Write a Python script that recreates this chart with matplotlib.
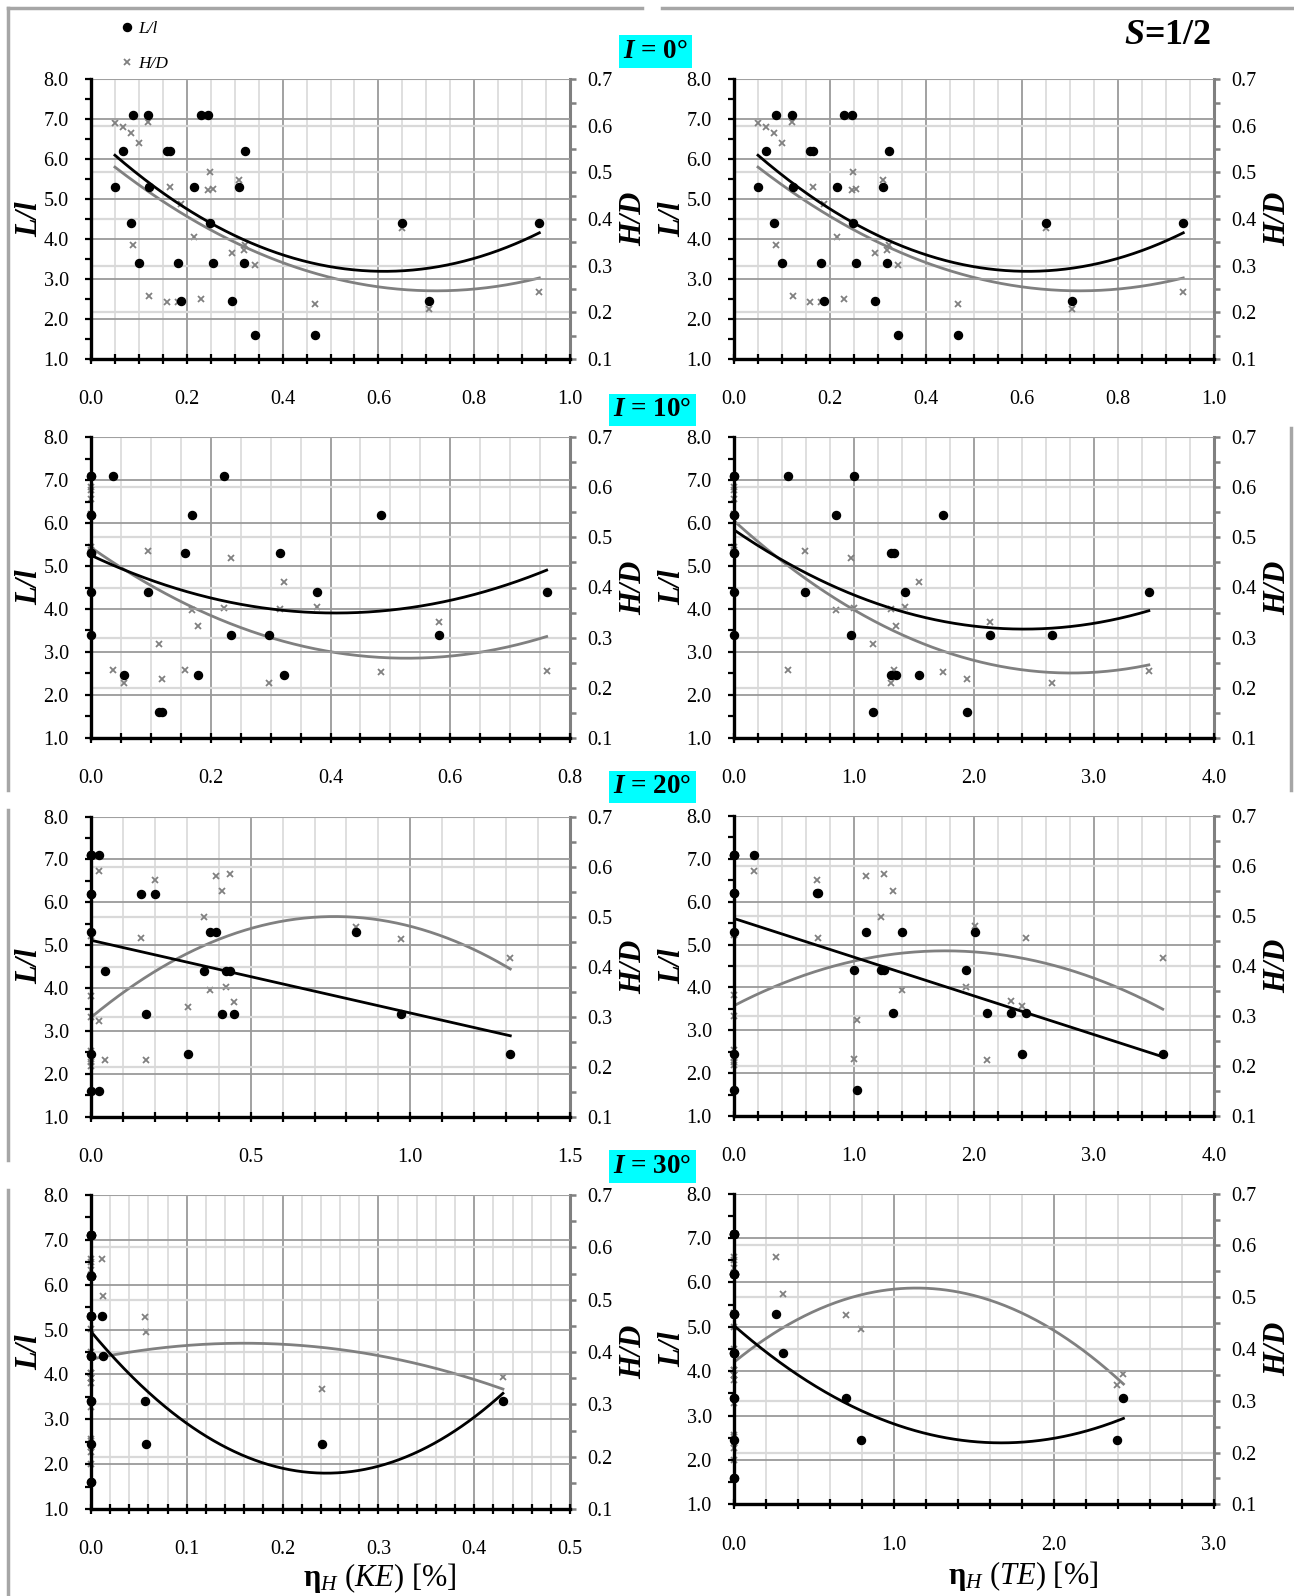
import numpy as np
import matplotlib
matplotlib.use('Agg')
import matplotlib.pyplot as plt
from matplotlib.ticker import MultipleLocator, FormatStrFormatter
from matplotlib.lines import Line2D

plt.rcParams['font.family'] = ['Liberation Serif', 'DejaVu Serif']
plt.rcParams['mathtext.fontset'] = 'custom'
plt.rcParams['mathtext.rm'] = 'Liberation Serif'
plt.rcParams['mathtext.it'] = 'Liberation Serif:italic'
plt.rcParams['mathtext.bf'] = 'Liberation Serif:bold'
plt.rcParams['mathtext.sf'] = 'Liberation Serif:bold:italic'

# ---------------- data ----------------
# I = 0 deg
eta_ke_0 = [0.050, 0.067, 0.083, 0.087, 0.100, 0.120, 0.122, 0.158, 0.165, 0.181, 0.187, 0.214, 0.230,
            0.245, 0.248, 0.254, 0.294, 0.310, 0.319, 0.322, 0.342, 0.467, 0.649, 0.705, 0.936]
eta_te_0 = [0.050, 0.067, 0.083, 0.087, 0.100, 0.120, 0.122, 0.158, 0.165, 0.181, 0.187, 0.214, 0.230,
            0.245, 0.248, 0.254, 0.294, 0.310, 0.319, 0.322, 0.342, 0.467, 0.649, 0.705, 0.936]
Ll_0 = [5.3, 6.2, 4.4, 7.1, 3.4, 7.1, 5.3, 6.2, 6.2, 3.4, 2.45, 5.3, 7.1, 7.1, 4.4, 3.4, 2.45, 5.3, 3.4,
        6.2, 1.6, 1.6, 4.4, 2.45, 4.4]
HD_0 = [0.607, 0.597, 0.584, 0.344, 0.564, 0.609, 0.234, 0.222, 0.469, 0.222, 0.432, 0.361, 0.229, 0.462,
        0.501, 0.465, 0.326, 0.483, 0.334, 0.344, 0.301, 0.218, 0.380, 0.206, 0.243]

# I = 10 deg
eta_ke_10 = [0, 0, 0, 0, 0, 0, 0, 0, 0.036, 0.055, 0.095, 0.114, 0.118, 0.157, 0.168, 0.179, 0.222,
             0.233, 0.298, 0.316, 0.322, 0.378, 0.484, 0.582, 0.761]
eta_te_10 = [0, 0, 0, 0, 0, 0, 0, 0, 0.450, 1.312, 0.594, 1.161, 1.940, 1.336, 0.848, 1.353, 0.996,
             0.979, 2.651, 1.312, 1.545, 1.428, 1.741, 2.132, 3.457]
Ll_10 = [7.1, 7.1, 6.2, 6.2, 5.3, 5.3, 4.4, 3.4, 7.1, 2.45, 4.4, 1.6, 1.6, 5.3, 6.2, 2.45, 7.1, 3.4, 3.4,
         5.3, 2.45, 4.4, 6.2, 3.4, 4.4]
HD_10 = [0.623, 0.601, 0.594, 0.577, 0.546, 0.481, 0.474, 0.469, 0.235, 0.209, 0.472, 0.288, 0.218, 0.235,
         0.355, 0.323, 0.359, 0.458, 0.209, 0.358, 0.411, 0.362, 0.232, 0.331, 0.234]

# I = 20 deg
eta_ke_20 = [0, 0, 0, 0, 0, 0, 0, 0, 0.024, 0.199, 0.158, 0.391, 0.372, 0.830, 0.045, 0.353, 0.434,
             0.424, 0.409, 0.172, 0.447, 0.970, 0.303, 1.313, 0.024]
eta_te_20 = [0, 0, 0, 0, 0, 0, 0, 0, 0.164, 0.689, 0.700, 1.102, 1.399, 2.007, 1.003, 1.229, 1.246,
             1.935, 1.321, 2.106, 2.311, 2.437, 2.396, 3.573, 1.027]
Ll_20 = [7.1, 7.1, 7.1, 6.2, 6.2, 5.3, 2.45, 1.6, 7.1, 6.2, 6.2, 5.3, 5.3, 5.3, 4.4, 4.4, 4.4, 4.4, 3.4,
         3.4, 3.4, 3.4, 2.45, 2.45, 1.6]
HD_20 = [0.232, 0.225, 0.216, 0.209, 0.202, 0.462, 0.342, 0.300, 0.591, 0.573, 0.457, 0.581, 0.353, 0.480,
         0.214, 0.499, 0.585, 0.359, 0.551, 0.213, 0.330, 0.456, 0.320, 0.417, 0.292]

# I = 30 deg
eta_ke_30 = [0] * 19 + [0.012, 0.013, 0.056, 0.057, 0.241, 0.430]
eta_te_30 = [0] * 19 + [0.261, 0.305, 0.701, 0.796, 2.396, 2.434]
Ll_30 = [7.1, 7.1, 7.1, 7.1, 6.2, 6.2, 6.2, 6.2, 5.3, 5.3, 5.3, 4.4, 4.4, 4.4, 3.4, 3.4, 2.45, 1.6, 1.6,
         5.3, 4.4, 3.4, 2.45, 2.45, 3.4]
HD_30 = [0.622, 0.578, 0.572, 0.556, 0.400, 0.469, 0.350, 0.443, 0.360, 0.359, 0.350, 0.340, 0.295, 0.234,
         0.230, 0.224, 0.218, 0.208, 0.186,
         0.578, 0.507, 0.466, 0.438, 0.330, 0.352]

angle_titles = ['0°', '10°', '20°', '30°']

# ---------------- figure ----------------
W, H = 1294, 1596
fig = plt.figure(figsize=(W / 100, H / 100), dpi=100)


def rect(x0, x1, yt, yb):
    return [x0 / W, 1 - yb / H, (x1 - x0) / W, (yb - yt) / H]


GRID_DARK = '#9a9a9a'
GRID_LIGHT = '#d9d9d9'
GREY = '#808080'
TICK_FS = 14.5


def panel(r, eta, ll, hd, xmax, xmaj, xmin_, degL, degH):
    ax = fig.add_axes(r)
    ax2 = ax.twinx()
    ax.set_zorder(3)
    ax2.set_zorder(2)
    ax.patch.set_visible(False)
    ax2.patch.set_visible(True)
    ax2.patch.set_facecolor('white')

    ax.set_xlim(0, xmax)
    ax.set_ylim(1, 8)
    ax2.set_ylim(0.1, 0.7)
    ax.xaxis.set_major_locator(MultipleLocator(xmaj))
    ax.xaxis.set_minor_locator(MultipleLocator(xmin_))
    ax.xaxis.set_major_formatter(FormatStrFormatter('%.1f'))
    ax.yaxis.set_major_locator(MultipleLocator(1.0))
    ax.yaxis.set_minor_locator(MultipleLocator(0.5))
    ax.yaxis.set_major_formatter(FormatStrFormatter('%.1f'))
    ax2.yaxis.set_major_locator(MultipleLocator(0.1))
    ax2.yaxis.set_minor_locator(MultipleLocator(0.05))
    ax2.yaxis.set_major_formatter(FormatStrFormatter('%.1f'))

    # grids
    ax2.xaxis.set_visible(True)
    ax2.tick_params(axis='x', which='both', bottom=False, top=False,
                    labelbottom=False, labeltop=False)
    ax2.grid(True, which='major', axis='x', color=GRID_DARK, lw=1.3)
    ax2.grid(True, which='minor', axis='x', color=GRID_LIGHT, lw=1.2)
    ax2.grid(True, which='major', axis='y', color=GRID_LIGHT, lw=1.6)
    ax.grid(True, which='major', axis='y', color=GRID_DARK, lw=1.3)
    ax.grid(False, which='minor')

    # spines
    for s in ['top', 'right']:
        ax.spines[s].set_visible(False)
    for s in ['left', 'bottom', 'top']:
        ax2.spines[s].set_visible(False)
    ax.spines['left'].set_linewidth(2.4)
    ax.spines['bottom'].set_linewidth(2.4)
    ax2.spines['right'].set_linewidth(2.2)
    ax2.spines['right'].set_color(GREY)

    ax.tick_params(axis='x', which='both', direction='inout', length=7, width=1.6,
                   pad=19, labelsize=TICK_FS, top=False)
    ax.tick_params(axis='y', which='both', direction='out', length=4, width=1.6,
                   pad=12, labelsize=TICK_FS, right=False)
    ax2.tick_params(axis='y', which='both', direction='out', length=4.5, width=1.8,
                    color=GREY, labelcolor='black', pad=8, labelsize=TICK_FS, left=False)

    # data
    ax2.plot(eta, hd, ls='none', marker='x', ms=4.2, mew=1.3, color=GREY, clip_on=False, zorder=3)
    ax.plot(eta, ll, ls='none', marker='o', ms=5.8, color='black', clip_on=False, zorder=4)

    xs = np.linspace(min(eta), max(eta), 300)
    ax2.plot(xs, np.polyval(np.polyfit(eta, hd, degH), xs), color=GREY, lw=2.0, zorder=2.5)
    ax.plot(xs, np.polyval(np.polyfit(eta, ll, degL), xs), color='black', lw=2.0, zorder=3.5)

    ax.set_ylabel('L/l', fontsize=22, fontweight='bold', fontstyle='italic')
    ax2.set_ylabel('H/D', fontsize=22, fontweight='bold', fontstyle='italic')
    ax.yaxis.set_label_coords(-0.098, 0.5)
    ax2.yaxis.set_label_coords(1.102, 0.5)
    return ax, ax2


LX = (91, 570)
RX = (734, 1214)
rows = [(79.2, 358.8, 79.2, 358.8), (437.3, 737.7, 437.3, 737.7),
        (816.5, 1116.5, 816.0, 1116.0), (1195.0, 1509.0, 1193.7, 1504.3)]

specs = [
    (eta_ke_0, eta_te_0, Ll_0, HD_0, (1.0, 0.2, 0.05), (1.0, 0.2, 0.05), (2, 2), (2, 2)),
    (eta_ke_10, eta_te_10, Ll_10, HD_10, (0.8, 0.2, 0.05), (4.0, 1.0, 0.2), (2, 2), (2, 2)),
    (eta_ke_20, eta_te_20, Ll_20, HD_20, (1.5, 0.5, 0.1), (4.0, 1.0, 0.2), (1, 2), (1, 2)),
    (eta_ke_30, eta_te_30, Ll_30, HD_30, (0.5, 0.1, 0.02), (3.0, 1.0, 0.2), (2, 2), (2, 2)),
]

for (yt, yb, yt2, yb2), (ek, et, ll, hd, kx, tx, dk, dt) in zip(rows, specs):
    panel(rect(LX[0], LX[1], yt, yb), ek, ll, hd, kx[0], kx[1], kx[2], dk[0], dk[1])
    panel(rect(RX[0], RX[1], yt2, yb2), et, ll, hd, tx[0], tx[1], tx[2], dt[0], dt[1])

# angle titles
title_centers = [(655.5, 51.3), (652.5, 410.0), (652.5, 787.0), (652.5, 1166.5)]
for (cx, cy), ang in zip(title_centers, angle_titles):
    fig.text(cx / W, 1 - cy / H, r'$\mathsf{I}$ = ' + ang, ha='center', va='center',
             fontsize=19.5, fontweight='bold',
             bbox=dict(boxstyle='square,pad=0.14', fc='#00ffff', ec='none'))

fig.text(1168 / W, 1 - 36 / H, r'$\mathsf{S}$=1/2', ha='center', va='center',
         fontsize=26, fontweight='bold')

# legend
handles = [Line2D([], [], ls='none', marker='o', ms=5.8, color='black'),
           Line2D([], [], ls='none', marker='x', ms=4.2, mew=1.3, color=GREY)]
fig.legend(handles, ['L/l', 'H/D'], loc='upper left', bbox_to_anchor=(121 / W, 1 - 21 / H),
           frameon=False, handlelength=0.7, handletextpad=0.3, labelspacing=1.1,
           borderpad=0, borderaxespad=0,
           prop={'family': 'Liberation Serif', 'style': 'italic', 'size': 12.5})

# x-axis labels
fig.text(380 / W, 1 - 1578 / H, r'$\mathbf{η}_{\mathit{H}}$ ($\mathit{KE}$) [%]', ha='center',
         va='center', fontsize=22)
fig.text(1023 / W, 1 - 1576 / H, r'$\mathbf{η}_{\mathit{H}}$ ($\mathit{TE}$) [%]', ha='center',
         va='center', fontsize=22)

# page frame lines
FRAME = '#a6a6a6'
segs = [([8, 8], [8, 790]), ([8, 8], [810, 1160]), ([8, 8], [1190, 1596]),
        ([8, 642], [8, 8]), ([662, 1294], [8, 8]), ([1291, 1291], [428, 790])]
for xs_, ys_ in segs:
    fig.add_artist(Line2D([x / W for x in xs_], [1 - y / H for y in ys_],
                          transform=fig.transFigure, color=FRAME, lw=2.5))

fig.savefig('out.png', dpi=100, facecolor='white')
